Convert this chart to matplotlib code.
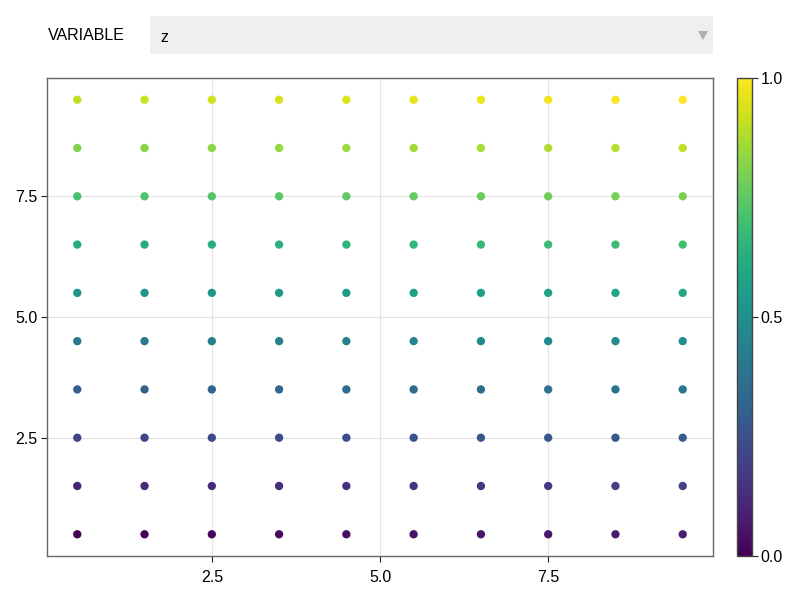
import matplotlib
matplotlib.use("Agg")
import matplotlib.pyplot as plt
import numpy as np
from matplotlib.patches import Rectangle, Polygon

plt.rcParams['font.family'] = ['Liberation Sans', 'DejaVu Sans']

x_vals = [0.5, 1.5, 2.5, 3.5, 4.5, 5.5, 6.5, 7.5, 8.5, 9.5]
y_vals = [0.5, 1.5, 2.5, 3.5, 4.5, 5.5, 6.5, 7.5, 8.5, 9.5]
# z values per row (bottom row first)
z_rows = [
    [0.00, 0.01, 0.02, 0.03, 0.04, 0.05, 0.06, 0.07, 0.08, 0.09],
    [0.10, 0.11, 0.12, 0.13, 0.14, 0.15, 0.16, 0.17, 0.18, 0.19],
    [0.20, 0.21, 0.22, 0.23, 0.24, 0.25, 0.26, 0.27, 0.28, 0.29],
    [0.30, 0.31, 0.32, 0.33, 0.34, 0.35, 0.36, 0.37, 0.38, 0.39],
    [0.40, 0.41, 0.42, 0.43, 0.44, 0.45, 0.46, 0.47, 0.48, 0.49],
    [0.51, 0.52, 0.53, 0.54, 0.55, 0.56, 0.57, 0.58, 0.59, 0.60],
    [0.61, 0.62, 0.63, 0.64, 0.65, 0.66, 0.67, 0.68, 0.69, 0.70],
    [0.71, 0.72, 0.73, 0.74, 0.75, 0.76, 0.77, 0.78, 0.79, 0.80],
    [0.81, 0.82, 0.83, 0.84, 0.85, 0.86, 0.87, 0.88, 0.89, 0.90],
    [0.91, 0.92, 0.93, 0.94, 0.95, 0.96, 0.97, 0.98, 0.99, 1.00],
]
x_ticks = [2.5, 5.0, 7.5]
y_ticks = [2.5, 5.0, 7.5]
cbar_ticks = [0.0, 0.5, 1.0]
menu_label = "VARIABLE"
menu_value = "z"

FS = 11.5
fig = plt.figure(figsize=(8, 6), dpi=100)

ax = fig.add_axes([47/800, 1-556/600, 666/800, 478/600])
X, Y = np.meshgrid(x_vals, y_vals)
Z = np.array(z_rows)
sc = ax.scatter(X.ravel(), Y.ravel(), c=Z.ravel(), cmap='viridis', vmin=0, vmax=1,
                s=36, linewidths=0, zorder=3)
ax.set_xlim(0.05, 9.95)
ax.set_ylim(0.05, 9.95)
ax.set_xticks(x_ticks)
ax.set_yticks(y_ticks)
ax.set_xticklabels([f"{t:.1f}" for t in x_ticks])
ax.set_yticklabels([f"{t:.1f}" for t in y_ticks])
ax.grid(True, color='#e3e3e3', linewidth=0.8, alpha=1.0, zorder=0)
ax.set_axisbelow(True)
for s in ax.spines.values():
    s.set_color('#666666')
    s.set_linewidth(1.0)
ax.tick_params(direction='out', length=4, width=0.8, color='#222222',
               labelsize=FS)
ax.tick_params(axis='x', pad=6)
ax.tick_params(axis='y', pad=3)

cax = fig.add_axes([737/800, 1-556/600, 15/800, 478/600])
cb = fig.colorbar(sc, cax=cax, ticks=cbar_ticks)
cb.ax.set_yticklabels([f"{t:.1f}" for t in cbar_ticks])
cb.outline.set_edgecolor('#444444')
cb.outline.set_linewidth(1.0)
cax.tick_params(direction='out', length=4, width=0.8, color='#222222',
                labelsize=FS, pad=2)

# Menu widget
fig.text(48/800, 1-36/600, menu_label, fontsize=FS, va='center', ha='left')
fig.patches.append(Rectangle((150/800, 1-54/600), 563/800, 38/600,
                             transform=fig.transFigure, facecolor='#efefef',
                             edgecolor='none'))
fig.text(160/800, 1-37/600, menu_value, fontsize=FS, va='center', ha='left')
tri = Polygon([[698/800, 1-31/600], [708/800, 1-31/600], [703/800, 1-40/600]],
              closed=True, transform=fig.transFigure, facecolor='#b0b0b0',
              edgecolor='none')
fig.patches.append(tri)

fig.savefig("out.png", dpi=100)
